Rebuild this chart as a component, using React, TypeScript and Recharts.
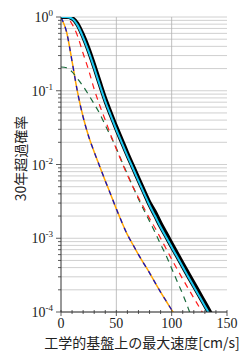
import { CartesianGrid, Line, LineChart, ReferenceLine, XAxis, YAxis } from "recharts";

// velocity on engineering bedrock [cm/s]
const velocity = [
  0, 5, 10, 15, 20, 25, 30, 35, 40, 45, 50, 55, 60, 65, 70, 75, 80, 85, 90, 95,
  100, 105, 110, 115, 120, 125, 130, 135, 140,
];

// 30-year exceedance probability per curve
const totalProb = [
  0.9999, 0.999, 0.97, 0.82, 0.58, 0.38, 0.23, 0.135, 0.08, 0.051, 0.033, 0.0219,
  0.0145, 0.0098, 0.0066, 0.0045, 0.0031, 0.0023, 0.00162, 0.00118, 0.00086,
  0.00063, 0.00046, 0.00034, 0.00025, 0.000185, 0.000136, 0.0001, 0.000074,
];
const cyanProb = [
  0.9999, 0.998, 0.95, 0.77, 0.53, 0.34, 0.205, 0.12, 0.072, 0.046, 0.0298,
  0.0197, 0.0131, 0.0089, 0.006, 0.0041, 0.0028, 0.002, 0.00142, 0.00104, 0.00076,
  0.00056, 0.00041, 0.0003, 0.000222, 0.000164, 0.000121, 0.000089, 0.000066,
];
const redProb = [
  0.999, 0.985, 0.8, 0.55, 0.32, 0.19, 0.105, 0.063, 0.04, 0.025, 0.0162, 0.0107,
  0.0072, 0.005, 0.00355, 0.00257, 0.00186, 0.00138, 0.001, 0.00072, 0.00052,
  0.00038, 0.00028, 0.000208, 0.000155, 0.000116, 0.000087, 0.000064, 0.000047,
];
const greenProb = [
  0.21, 0.205, 0.18, 0.145, 0.115, 0.088, 0.066, 0.049, 0.034, 0.024, 0.0166,
  0.011, 0.0074, 0.005, 0.0034, 0.0024, 0.0017, 0.0012, 0.00083, 0.00058, 0.00039,
  0.00026, 0.000174, 0.000112, 0.00007, 0.000044, 0.000028, 0.000018, 0.000011,
];
const orangeProb = [
  0.98, 0.63, 0.25, 0.095, 0.044, 0.024, 0.0148, 0.0094, 0.006, 0.0039, 0.0025,
  0.00165, 0.00112, 0.00082, 0.0006, 0.00045, 0.00034, 0.00025, 0.000186, 0.000141,
  0.000107, 0.000083, 0.000065, 0.00005, 0.000038, 0.000029, 0.000022, 0.000017,
  0.000013,
];

const xTicks = [0, 10, 20, 30, 40, 50, 60, 70, 80, 90, 100, 110, 120, 130, 140, 150];
const xLabelStep = 50;
const xGrid = [50, 100];
const decades = [-4, -3, -2, -1];
const mantissas = [1, 2, 3, 4, 5, 6, 7, 8, 9];
const yTicks = [...decades.flatMap((d) => mantissas.map((m) => m * Math.pow(10, d))), 1];

const data = velocity.map((v, i) => ({
  v,
  total: totalProb[i],
  cyan: cyanProb[i],
  red: redProb[i],
  green: greenProb[i],
  orange: orangeProb[i],
}));

const serif = "'Liberation Serif', 'DejaVu Serif', serif";
const jp = "'Noto Sans CJK JP', sans-serif";

const isDecade = (v: number) => {
  const e = Math.round(Math.log10(v));
  return Math.abs(v / Math.pow(10, e) - 1) < 1e-6;
};

function LeftTick({ x, y, payload }: any) {
  const v = payload.value;
  const major = isDecade(v);
  const e = Math.round(Math.log10(v));
  return (
    <g>
      <line x1={x} x2={x - (major ? 5 : 3)} y1={y} y2={y} stroke="#333" strokeWidth={0.8} />
      {major && (
        <text x={x - 8} y={y + 5} textAnchor="end" fontFamily={serif} fontSize={14} fill="#222">
          10<tspan dy={-6} fontSize={9}>{e}</tspan>
        </text>
      )}
    </g>
  );
}

function RightTick({ x, y, payload }: any) {
  const major = isDecade(payload.value);
  return <line x1={x} x2={x + (major ? 5 : 3)} y1={y} y2={y} stroke="#333" strokeWidth={0.8} />;
}

function BottomTick({ x, y, payload }: any) {
  const major = payload.value % xLabelStep === 0;
  return (
    <g>
      <line x1={x} x2={x} y1={y - 2} y2={y + (major ? 4 : 2)} stroke="#333" strokeWidth={0.8} />
      {major && (
        <text x={x} y={y + 16} textAnchor="middle" fontFamily={serif} fontSize={14} fill="#222">
          {payload.value}
        </text>
      )}
    </g>
  );
}

function TopTick({ x, y, payload }: any) {
  const major = payload.value % xLabelStep === 0;
  return <line x1={x} x2={x} y1={y} y2={y - (major ? 5 : 3)} stroke="#333" strokeWidth={0.8} />;
}

function YTitle({ viewBox }: any) {
  const cx = viewBox.x + 20;
  const cy = viewBox.y + viewBox.height / 2 - 6;
  return (
    <text
      x={cx}
      y={cy}
      transform={`rotate(-90 ${cx} ${cy})`}
      textAnchor="middle"
      dominantBaseline="central"
      fontFamily={jp}
      fontSize={14}
      fill="#222"
    >
      30年超過確率
    </text>
  );
}

function XTitle({ viewBox }: any) {
  return (
    <text
      x={viewBox.x + viewBox.width / 2 - 2}
      y={viewBox.y + 30}
      textAnchor="middle"
      dominantBaseline="central"
      fontFamily={jp}
      fontSize={14}
      fill="#222"
    >
      工学的基盤上の最大速度[cm/s]
    </text>
  );
}

export default function App() {
  return (
    <div style={{ position: "absolute", left: 0, top: 0, background: "#fff" }}>
      <LineChart width={247} height={357} data={data} margin={{ top: 17, right: 20, bottom: 0, left: 0 }}>
        <CartesianGrid vertical={false} stroke="#c4c4c4" strokeWidth={0.8} />
        <XAxis
          dataKey="v"
          type="number"
          domain={[0, 150]}
          ticks={xTicks}
          allowDataOverflow
          height={45}
          tickSize={0}
          tickMargin={0}
          tickLine={false}
          axisLine={{ stroke: "#333" }}
          tick={<BottomTick />}
          interval={0}
          label={<XTitle />}
        />
        <XAxis
          xAxisId="top"
          orientation="top"
          type="number"
          domain={[0, 150]}
          ticks={xTicks}
          height={0}
          tickSize={0}
          tickMargin={0}
          tickLine={false}
          axisLine={{ stroke: "#333" }}
          tick={<TopTick />}
          interval={0}
        />
        <YAxis
          type="number"
          scale="log"
          domain={[1e-4, 1]}
          ticks={yTicks}
          allowDataOverflow
          width={61}
          tickSize={0}
          tickMargin={0}
          tickLine={false}
          axisLine={{ stroke: "#333" }}
          tick={<LeftTick />}
          interval={0}
          label={<YTitle />}
        />
        <YAxis
          yAxisId="right"
          orientation="right"
          type="number"
          scale="log"
          domain={[1e-4, 1]}
          ticks={yTicks}
          allowDataOverflow
          width={0}
          tickSize={0}
          tickMargin={0}
          tickLine={false}
          axisLine={{ stroke: "#333" }}
          tick={<RightTick />}
          interval={0}
        />
        {xGrid.map((g) => (
          <ReferenceLine key={g} x={g} stroke="#b0b0b0" strokeWidth={0.8} />
        ))}
        <Line type="monotone" dataKey="orange" stroke="#ffa500" strokeWidth={1.5} dot={false} isAnimationActive={false} />
        <Line type="monotone" dataKey="orange" stroke="#1010c8" strokeWidth={1.3} strokeDasharray="5 5" dot={false} isAnimationActive={false} />
        <Line type="monotone" dataKey="green" stroke="#1a6b3c" strokeWidth={1.2} strokeDasharray="6 5" dot={false} isAnimationActive={false} />
        <Line type="monotone" dataKey="red" stroke="#ff1a1a" strokeWidth={1.2} strokeDasharray="6 5" dot={false} isAnimationActive={false} />
        <Line type="monotone" dataKey="total" stroke="#000" strokeWidth={3.5} dot={false} isAnimationActive={false} />
        <Line type="monotone" dataKey="cyan" stroke="#000" strokeWidth={3.6} dot={false} isAnimationActive={false} />
        <Line type="monotone" dataKey="cyan" stroke="#1ec8f0" strokeWidth={2} dot={false} isAnimationActive={false} />
      </LineChart>
    </div>
  );
}
